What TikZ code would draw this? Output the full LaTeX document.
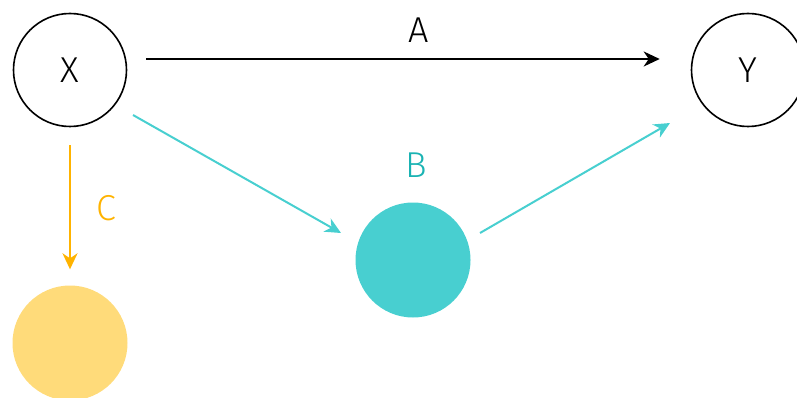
\documentclass[tikz,border=0pt]{standalone}
\usepackage{fontspec}
\setmainfont{Fira Sans}[UprightFont=* Light]
\usetikzlibrary{arrows.meta,positioning}
\definecolor{Teal}{HTML}{48CFD0}
\definecolor{DarkTeal}{HTML}{1AB3B3}
\definecolor{Gold}{HTML}{FFB300}
\definecolor{PaleGold}{HTML}{FFDB7A}

\begin{document}
\begin{tikzpicture}[x=1pt,y=-1pt,
  var/.style={circle,draw=black,line width=1.6pt,minimum size=113pt,inner sep=0pt,font=\fontsize{36}{40}\selectfont},
  blob/.style={circle,minimum size=115pt,inner sep=0pt},
  lbl/.style={font=\fontsize{36}{40}\selectfont},
  arr/.style={-{Stealth[length=16pt,width=15pt,inset=5pt]},line width=2pt}
]
\useasboundingbox (0,0) rectangle (797,398);
\node[var] (x) at (70,70) {X};
\node[var] (y) at (748,70) {Y};
\node[blob,fill=Teal] (b) at (413,260) {};
\node[blob,fill=PaleGold] (c) at (70,343) {};

\draw[arr] ([xshift=19pt,yshift=11pt]x.east) -- ([xshift=-31pt,yshift=11pt]y.west);
\node[lbl] (la) at (419,30) {A};

\draw[arr,Teal] ([shift={(63,45)}]x.center) -- ([shift={(-72,-27)}]b.center);
\draw[arr,Teal] ([shift={(67,-27)}]b.center) -- ([shift={(-78,53)}]y.center);
\node[lbl,text=DarkTeal] (lb) at (416,165) {B};

\draw[arr,Gold,shorten <=18pt,shorten >=16pt] (x) -- (c);
\node[lbl,text=Gold] (lc) at (106,208) {C};
\end{tikzpicture}
\end{document}
